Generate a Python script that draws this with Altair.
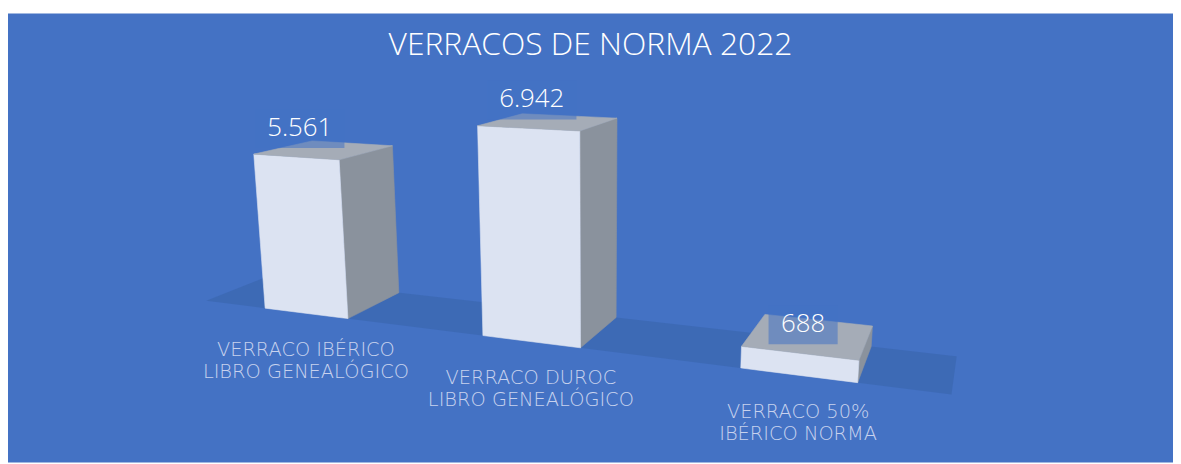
import math
import altair as alt
import pandas as pd

# ---------------- data ----------------
title_text = "VERRACOS DE NORMA 2022"
category_lines = [
    ["VERRACO IBÉRICO", "LIBRO GENEALÓGICO"],
    ["VERRACO DUROC", "LIBRO GENEALÓGICO"],
    ["VERRACO 50%", "IBÉRICO NORMA"],
]
values = [5561, 6942, 688]
value_labels = ["5.561", "6.942", "688"]

# ---------------- style / camera ----------------
BG = "#4472C4"
FRONT = "#DCE3F2"
SIDE = "#8A929D"
TOP = "#A5ACB7"
FLOOR = "#3C68B3"
LABEL_COLOR = "#C8D2EE"

W, H = 1173, 452
PAGE_X0, PAGE_Y0 = 8, 12
FOCAL, CX, CY = 1073.0, 600.0, 232.0
PITCH = math.atan(0.233)
YAW = math.radians(20.6)
ORIGIN = (-1.047, 3.23)
CAM_H = 1.0
STEP, BAR_W, BAR_D, FLOOR_PAD = 0.766, 0.306, 0.30, 0.23
HEIGHT_PER_UNIT = 8.85e-5

R_HAT = (math.cos(YAW), -math.sin(YAW))
D_HAT = (math.sin(YAW), math.cos(YAW))
SP, CP = math.sin(PITCH), math.cos(PITCH)


def project(r, d, h):
    X = ORIGIN[0] + r * R_HAT[0] + d * D_HAT[0]
    Z = ORIGIN[1] + r * R_HAT[1] + d * D_HAT[1]
    Y = h - CAM_H
    yc = Y * CP + Z * SP
    zc = -Y * SP + Z * CP
    u = CX + FOCAL * X / zc
    v = CY - FOCAL * yc / zc
    return u - PAGE_X0, v - PAGE_Y0


def polygon_rows(pts, face_id, color):
    xs = sorted(set(round(p[0], 4) for p in pts))
    n = len(pts)
    rows = []
    for x in xs:
        ys = []
        for i in range(n):
            (x1, y1), (x2, y2) = pts[i], pts[(i + 1) % n]
            lo, hi = min(x1, x2), max(x1, x2)
            if lo - 1e-3 <= x <= hi + 1e-3:
                if abs(x2 - x1) < 1e-6:
                    ys += [y1, y2]
                else:
                    t = (x - x1) / (x2 - x1)
                    ys.append(y1 + t * (y2 - y1))
        rows.append(dict(face=face_id, px=x, py=min(ys), py2=max(ys), fill=color))
    return rows


# floor band
n = len(values)
r_end = (n - 1) * STEP + BAR_W + FLOOR_PAD
floor_pts = [project(-FLOOR_PAD, 0, 0), project(r_end, 0, 0),
             project(r_end, BAR_D, 0), project(-FLOOR_PAD, BAR_D, 0)]
floor_df = pd.DataFrame(polygon_rows(floor_pts, "floor", FLOOR))

face_rows = []
label_rows = []
cat_rows = []
for i, (val, lab, lines) in enumerate(zip(values, value_labels, category_lines)):
    h = val * HEIGHT_PER_UNIT
    r0, r1 = i * STEP, i * STEP + BAR_W
    front = [project(r0, 0, 0), project(r1, 0, 0), project(r1, 0, h), project(r0, 0, h)]
    side = [project(r1, 0, 0), project(r1, BAR_D, 0), project(r1, BAR_D, h), project(r1, 0, h)]
    top = [project(r0, 0, h), project(r1, 0, h), project(r1, BAR_D, h), project(r0, BAR_D, h)]
    face_rows += polygon_rows(side, f"b{i}_side", SIDE)
    face_rows += polygon_rows(front, f"b{i}_front", FRONT)
    face_rows += polygon_rows(top, f"b{i}_top", TOP)
    tx, ty = project((r0 + r1) / 2, 0, h)
    digits = sum(c.isdigit() for c in lab)
    dots = len(lab) - digits
    half = (14.5 * digits + 6 * dots) / 2 + 13
    path = f"M{-half:.1f},-48H{half:.1f}V-9H{-half:.1f}Z"
    label_rows.append(dict(px=tx + 4, py=ty, label=lab, box=path))
    bx, by = project((r0 + r1) / 2, 0, 0)
    cat_rows.append(dict(px=bx, py=by, cat="\n".join(lines)))

faces_df = pd.DataFrame(face_rows)
labels_df = pd.DataFrame(label_rows)
cats_df = pd.DataFrame(cat_rows)

xs = alt.Scale(domain=[0, W], nice=False, zero=False)
ys = alt.Scale(domain=[0, H], nice=False, zero=False, reverse=True)

floor = alt.Chart(floor_df).mark_area(opacity=0.85).encode(
    x=alt.X("px:Q", scale=xs, axis=None),
    y=alt.Y("py:Q", scale=ys, axis=None, stack=None),
    y2="py2:Q",
    color=alt.Color("fill:N", scale=None),
    detail="face:N",
)

faces = alt.Chart(faces_df).mark_area(strokeWidth=0.6).encode(
    x=alt.X("px:Q", scale=xs, axis=None),
    y=alt.Y("py:Q", scale=ys, axis=None, stack=None),
    y2="py2:Q",
    color=alt.Color("fill:N", scale=None),
    stroke=alt.Stroke("fill:N", scale=None),
    detail="face:N",
)

boxes = alt.Chart(labels_df).mark_point(
    filled=True, size=4, fill=BG, opacity=0.55, strokeWidth=0
).encode(
    x=alt.X("px:Q", scale=xs, axis=None),
    y=alt.Y("py:Q", scale=ys, axis=None),
    shape=alt.Shape("box:N", scale=None),
)

nums = alt.Chart(labels_df).mark_text(
    font="Open Sans", fontSize=26, fontWeight=300, color="white",
    baseline="middle", align="center", dy=-29,
).encode(
    x=alt.X("px:Q", scale=xs, axis=None),
    y=alt.Y("py:Q", scale=ys, axis=None),
    text="label:N",
)

cats = alt.Chart(cats_df).mark_text(
    font="DejaVu Sans", fontSize=19.5, fontWeight=300, color=LABEL_COLOR,
    baseline="alphabetic", align="center", dy=43, lineBreak="\n", lineHeight=22,
).encode(
    x=alt.X("px:Q", scale=xs, axis=None),
    y=alt.Y("py:Q", scale=ys, axis=None),
    text="cat:N",
)

chart = alt.layer(floor, faces, boxes, nums, cats).properties(
    width=W, height=H,
    autosize=alt.AutoSizeParams(type="none"),
    padding={"left": 0, "top": 4, "right": 0, "bottom": 0},
    background="white",
    title=alt.TitleParams(
        title_text, font="Open Sans", fontSize=32, fontWeight=300, color="white",
        anchor="middle", frame="group", offset=-74, baseline="alphabetic",
    ),
).configure_view(fill=BG, stroke=None)

chart.save("out.html", embed_options={"renderer": "svg", "actions": False})
